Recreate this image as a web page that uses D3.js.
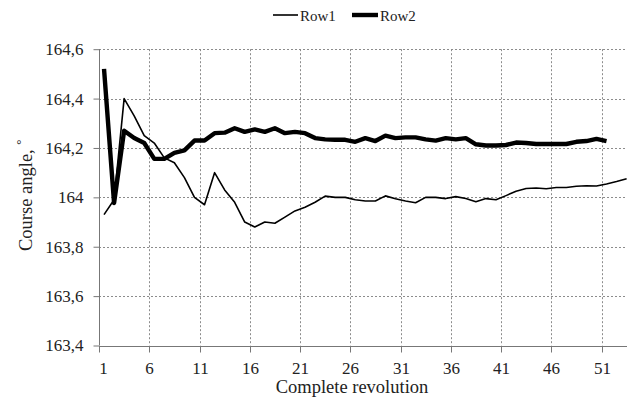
<!DOCTYPE html>
<html>
<head>
<meta charset="utf-8">
<script src="https://cdn.jsdelivr.net/npm/d3@7"></script>
<style>
html,body{margin:0;padding:0;background:#fff;}
svg{display:block;}
svg text{font-family:"Liberation Serif","Times New Roman",serif;}
</style>
</head>
<body>
<svg id="chart" width="627" height="399"></svg>
<script>
const categories = d3.range(1, 54);
const row1 = [163.93,163.99,164.40,164.33,164.25,164.22,164.16,164.14,164.08,164.00,
  163.97,164.10,164.03,163.98,163.90,163.88,163.90,163.895,163.92,163.945,
  163.96,163.98,164.005,164.0,164.0,163.99,163.985,163.985,164.006,163.994,
  163.985,163.978,164.0,164.0,163.995,164.003,163.995,163.982,163.995,163.99,
  164.007,164.025,164.036,164.038,164.035,164.04,164.04,164.045,164.047,164.046,
  164.054,164.064,164.075];
const row2 = [164.52,163.977,164.27,164.24,164.22,164.156,164.156,164.18,164.19,164.23,
  164.23,164.26,164.262,164.28,164.265,164.275,164.265,164.28,164.26,164.265,
  164.26,164.24,164.235,164.233,164.233,164.225,164.24,164.228,164.25,164.24,
  164.243,164.243,164.235,164.23,164.24,164.235,164.24,164.215,164.21,164.21,
  164.212,164.222,164.22,164.216,164.216,164.216,164.216,164.225,164.228,164.237,
  164.228];
const seriesNames = ["Row1", "Row2"];
const xTickValues = [1,6,11,16,21,26,31,36,41,46,51];
const yTickValues = [163.4,163.6,163.8,164.0,164.2,164.4,164.6];
const yTickLabels = ["163,4","163,6","163,8","164","164,2","164,4","164,6"];
const xTitle = "Complete revolution";
const yTitle = "Course angle, ";

const svg = d3.select("#chart");
const pLeft = 99, pTop = 49.2, pBottom = 345.5, W = 627;
const step = 10.05;

const x = d3.scaleBand().domain(categories).range([pLeft, pLeft + categories.length * step]).padding(0);
const y = d3.scaleLinear().domain([163.4, 164.6]).range([pBottom, pTop]);
const cx = c => x(c) + x.bandwidth() / 2;

const grid = "#8c8c8c";
// horizontal gridlines
svg.append("g").selectAll("line").data(yTickValues.filter(v => v > 163.41)).join("line")
  .attr("x1", pLeft).attr("x2", W)
  .attr("y1", d => Math.round(y(d)) + 0.5).attr("y2", d => Math.round(y(d)) + 0.5)
  .attr("stroke", grid).attr("stroke-width", 1).attr("stroke-dasharray", "2,2");
// vertical gridlines
svg.append("g").selectAll("line").data(xTickValues.filter(v => v > 1)).join("line")
  .attr("x1", d => Math.round(x(d)) + 0.5).attr("x2", d => Math.round(x(d)) + 0.5)
  .attr("y1", pTop).attr("y2", pBottom)
  .attr("stroke", grid).attr("stroke-width", 1).attr("stroke-dasharray", "2,2");

// y axis
const yAxis = d3.axisLeft(y).tickValues(yTickValues)
  .tickFormat((d, i) => yTickLabels[i]).tickSize(6).tickPadding(10);
const gy = svg.append("g").attr("transform", `translate(${pLeft + 0.5},0)`).call(yAxis);
gy.attr("font-family", null).attr("font-size", null);
gy.select(".domain").attr("stroke", "#777").attr("d", `M0,${pTop}V${pBottom}`);
gy.selectAll(".tick line").attr("stroke", "#777");
gy.selectAll(".tick text").style("font-size", "17px").attr("fill", "#222");

// x axis
const xAxis = d3.axisBottom(x).tickValues(xTickValues).tickSize(6).tickPadding(9);
const gx = svg.append("g").attr("transform", `translate(0,${Math.round(pBottom) + 0.5})`).call(xAxis);
gx.attr("font-family", null).attr("font-size", null);
gx.selectAll(".tick").attr("transform", d => `translate(${Math.round(x(d)) + 0.5},0)`);
gx.select(".domain").attr("stroke", "#777").attr("d", `M${pLeft},0H${W}`);
gx.selectAll(".tick line").attr("stroke", "#777");
gx.selectAll(".tick text").style("font-size", "17px").attr("fill", "#222")
  .attr("dx", d => d === 1 ? 4 : 0);

// lines
const line = d3.line().x((d, i) => cx(categories[i])).y(d => y(d));
svg.append("path").datum(row1).attr("d", line)
  .attr("fill", "none").attr("stroke", "#000").attr("stroke-width", 1.6).attr("stroke-linejoin", "round");
svg.append("path").datum(row2).attr("d", line)
  .attr("fill", "none").attr("stroke", "#000").attr("stroke-width", 4.4).attr("stroke-linejoin", "round");

// axis titles
svg.append("text").attr("x", 352).attr("y", 392.5).attr("text-anchor", "middle")
  .style("font-size", "18.5px").attr("fill", "#222").text(xTitle);
const yt = svg.append("text").attr("transform", "translate(32,251) rotate(-90)")
  .style("font-size", "18.5px").attr("fill", "#222");
yt.append("tspan").text(yTitle);
yt.append("tspan").style("font-size", "13px").attr("dy", -7).text("°");

// legend
const legend = [
  {name: seriesNames[0], x1: 273, x2: 298, w: 1.6, tx: 300},
  {name: seriesNames[1], x1: 352, x2: 378, w: 4.4, tx: 380}
];
const lg = svg.append("g");
lg.selectAll("line").data(legend).join("line")
  .attr("x1", d => d.x1).attr("x2", d => d.x2).attr("y1", 15).attr("y2", 15)
  .attr("stroke", "#000").attr("stroke-width", d => d.w);
lg.selectAll("text").data(legend).join("text")
  .attr("x", d => d.tx).attr("y", 21).style("font-size", "15px").attr("fill", "#222")
  .text(d => d.name);
</script>
</body>
</html>
